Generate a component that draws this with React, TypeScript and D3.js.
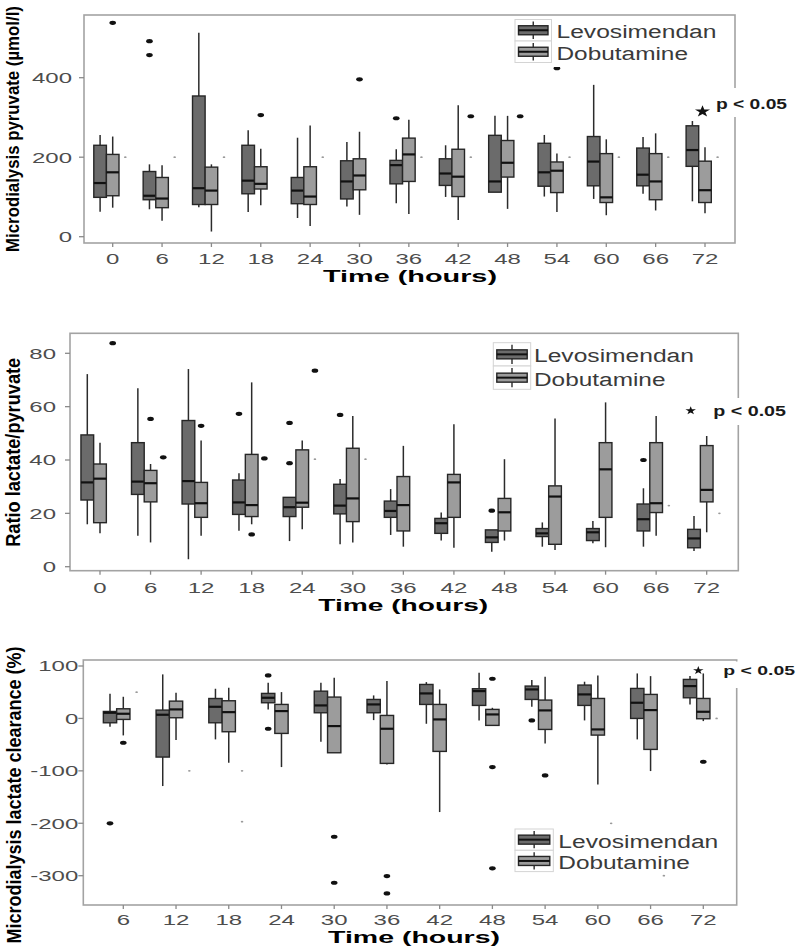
import React, { useLayoutEffect, useRef, useState } from 'react';
import * as d3 from 'd3';

// ---------- DATA ----------
const seriesNames = ['Levosimendan', 'Dobutamine'];
const slotNames = ['Levosimendan', 'Dobutamine', 'extra'];
const hoursAll = [0, 6, 12, 18, 24, 30, 36, 42, 48, 54, 60, 66, 72];
const hoursClearance = [6, 12, 18, 24, 30, 36, 42, 48, 54, 60, 66, 72];

// each entry: [lower whisker, Q1, median, Q3, upper whisker]
const pyruvateLevo = [
  [63, 99, 135, 230, 256], [69, 93, 103, 164, 182], [74, 81, 122, 354, 513],
  [62, 108, 141, 230, 268], [47, 83, 116, 149, 249], [76, 95, 139, 191, 238],
  [84, 133, 180, 192, 220], [100, 129, 159, 196, 230], [112, 112, 139, 255, 304],
  [101, 127, 162, 235, 256], [95, 128, 189, 252, 382], [108, 128, 156, 223, 251],
  [89, 177, 218, 279, 291],
];
const pyruvateDobu = [
  [73, 103, 162, 207, 252], [40, 73, 96, 149, 180], [13, 81, 116, 175, 182],
  [79, 120, 133, 176, 221], [27, 81, 101, 176, 280], [55, 118, 154, 196, 264],
  [57, 139, 207, 248, 294], [42, 101, 151, 220, 331], [70, 150, 186, 242, 304],
  [62, 111, 166, 188, 209], [54, 86, 99, 209, 245], [66, 93, 139, 209, 260],
  [59, 86, 117, 190, 225],
];
// [hour, slot, value]
const pyruvateOutliers = [
  [0, 1, 538], [6, 0, 492], [6, 0, 457], [18, 1, 306], [30, 1, 396],
  [36, 0, 298], [42, 2, 303], [48, 2, 303], [54, 1, 424],
];
// [hour, value]
const pyruvateStray = [
  [0, 200], [6, 200], [12, 200], [24, 200], [36, 200], [42, 200],
  [54, 200], [60, 200], [66, 200], [72, 200],
];
const pyruvateTicks = [0, 200, 400];

const ratioLevo = [
  [15.9, 25, 31.6, 49.4, 72.2], [11.6, 27.1, 31.9, 46.5, 66.9], [2.8, 23.5, 32.1, 54.8, 74.1],
  [13.5, 19.6, 24.1, 32.5, 35], [9.6, 18.8, 22.3, 26, 26], [8.4, 19.8, 22.9, 30.9, 32.9],
  [11.9, 18.5, 20.9, 24.6, 29.1], [9.8, 12.5, 16.3, 18.1, 20.3], [5.6, 9.1, 11, 13.8, 13.8],
  [7.5, 11.3, 12.5, 14.3, 16.6], [8.8, 9.8, 12.9, 14.3, 17.1], [7.5, 13.4, 17.8, 23.5, 29.4],
  [5.9, 7.1, 10.6, 14, 19],
];
const ratioDobu = [
  [12.5, 16.5, 33, 38.5, 46.5], [9.1, 24.3, 31.3, 36.1, 38.5], [11.6, 18.5, 23.8, 31.6, 47.3],
  [15.9, 18.8, 23.1, 42.1, 69.1], [14, 22.3, 24, 43.8, 47.3], [9.1, 16.9, 25.6, 44.4, 56.5],
  [7.5, 13.4, 23.1, 33.8, 45.3], [7.1, 18.5, 31.6, 34.6, 53.4], [9.8, 13.4, 20.4, 25.6, 40.3],
  [6.3, 8.4, 26.3, 30.3, 55.6], [7.3, 18.5, 36.5, 46.5, 61.6], [11.6, 20.3, 23.8, 46.5, 56.5],
  [12.9, 24.3, 28.8, 45.4, 49],
];
const ratioOutliers = [
  [0, 2, 83.8], [6, 1, 55.4], [6, 2, 41], [12, 1, 52.8], [18, 0, 57.3], [18, 1, 12.1],
  [18, 2, 40.6], [24, 0, 53.9], [24, 0, 38.8], [24, 2, 73.5], [30, 0, 56.9],
  [48, 0, 21], [66, 0, 40],
];
const ratioStray = [[24, 40.3], [30, 40.3], [66, 22.9], [72, 20]];
const ratioTicks = [0, 20, 40, 60, 80];

const clearanceLevo = [
  [-15.9, -8.3, 10.8, 13.3, 47], [-129, -73.7, 7, 15.9, 84], [-40, -8.3, 22.2, 38, 56.6],
  [17.2, 29.9, 39.4, 47.7, 68], [-44.5, 10.8, 24.8, 52, 68], [-3.2, 10.8, 26.7, 36.2, 43.9],
  [-10.2, 26.7, 47.7, 64.8, 69.3], [-3.8, 24.8, 52.1, 56.6, 87.1], [22.2, 36.2, 55.3, 61.7, 73.1],
  [-3.8, 24.8, 45.8, 63.6, 70], [-40, 0, 29.9, 57.2, 85.8], [26.7, 39.4, 61.7, 74.4, 80.7],
];
const clearanceDobu = [
  [-32.4, -1.9, 8.9, 18.4, 41.3], [-41.3, 1.3, 17.2, 33, 49], [-84.6, -25.4, 12, 33.7, 58.5],
  [-92.8, -28.6, 14, 26.7, 50.2], [-65.5, -65.5, -14.6, 40.7, 77.6], [-87.7, -85.8, -19.7, 5.7, 71.2],
  [-178.6, -62.9, -1.9, 26.7, 55.3], [-13.3, -13.3, 7.6, 17.2, 20.3], [-47.7, -21, 15.3, 35, 79.5],
  [-125.9, -31.8, -21, 38.1, 82], [-100.4, -59.1, 15.9, 45.8, 80.7], [-5.1, -0.6, 12.7, 38.1, 85.8],
];
const clearanceOutliers = [
  [6, 0, -200], [6, 1, -46.4], [24, 0, 82], [24, 0, -19.7], [30, 1, -225.7], [30, 1, -313.4],
  [36, 1, -300.7], [36, 1, -333.8], [48, 1, 75.7], [48, 1, -92.8], [48, 1, -286],
  [54, 0, -3.8], [54, 1, -108.7], [72, 1, -82.6],
];
const clearanceStray = [[6, 50], [12, -100], [18, -100], [18, -197], [60, -200], [66, -300], [72, 0]];
const clearanceTicks = [-300, -200, -100, 0, 100];

const yTitles = ['Microdialysis pyruvate (µmol/l)', 'Ratio lactate/pyruvate', 'Microdialysis lactate clearance (%)'];
const xTitle = 'Time (hours)';
const annotation = 'p < 0.05';

// ---------- STYLE ----------
const FONT = "'Liberation Sans', Arial, sans-serif";
const FILLS = ['#6b6b6b', '#9c9c9c'];
const BORDER = '#a3a3a3';
const TICKCOL = '#4d4d4d';

const Txt = ({ x, y, text, fs, sx = 1, anchor = 'middle', weight = 400, fill = '#000', rotate = 0, len }: any) => (
  <text
    transform={`translate(${x},${y}) scale(${sx},1)${rotate ? ` rotate(${rotate})` : ''}`}
    fontSize={fs}
    fontWeight={weight}
    fill={fill}
    textAnchor={anchor}
    fontFamily={FONT}
    textLength={len}
    lengthAdjust={len ? 'spacingAndGlyphs' : undefined}
  >
    {text}
  </text>
);

// rotated title squeezed to a target length via transform (measured natural length)
const RotTitle = ({ x, y, text, fs, len }: any) => {
  const ref = useRef<SVGTextElement>(null);
  const [k, setK] = useState(0.8);
  useLayoutEffect(() => {
    if (ref.current) {
      const nat = ref.current.getComputedTextLength();
      if (nat > 0) setK(len / nat);
    }
  }, [text, fs, len]);
  return (
    <text ref={ref} transform={`translate(${x},${y}) rotate(-90) scale(${k},1)`} fontSize={fs}
      fontWeight={700} fill="#000" textAnchor="middle" fontFamily={FONT}>
      {text}
    </text>
  );
};

const panels = [
  {
    hours: hoursAll, levo: pyruvateLevo, dobu: pyruvateDobu, outliers: pyruvateOutliers, stray: pyruvateStray,
    ticks: pyruvateTicks, title: yTitles[0],
    plot: { x0: 84, x1: 735, y0: 15, y1: 243 },
    xDomain: [0, 72], xRange: [112.7, 705], dw: 12.6,
    yDomain: [0, 400], yRange: [236.7, 77.7],
    yLabelX: 72, xLabelBase: 263.5,
    yTitle: { x: 18.5, y: 129, fs: 18.5, len: 246 },
    xTitlePos: { x: 410, y: 281.7, len: 174 },
    legend: { x: 515, y: 19.5, w: 36.5, h: 21.5, tx: 556.5, bg: [511, 16, 192, 51] },
    annot: { sx: 702.5, sy: 111.5, ss: 45, tx: 716, ty: 109, fs: 14, len: 71, bg: [709, 88, 91, 29] },
  },
  {
    hours: hoursAll, levo: ratioLevo, dobu: ratioDobu, outliers: ratioOutliers, stray: ratioStray,
    ticks: ratioTicks, title: yTitles[1],
    plot: { x0: 70, x1: 738.3, y0: 333.3, y1: 570.7 },
    xDomain: [0, 72], xRange: [100, 706.7], dw: 12.7,
    yDomain: [0, 80], yRange: [566.7, 353.3],
    yLabelX: 56, xLabelBase: 592.7,
    yTitle: { x: 20, y: 452.3, fs: 21, len: 189 },
    xTitlePos: { x: 403.2, y: 611, len: 170 },
    legend: { x: 493.3, y: 342.7, w: 37.4, h: 23.3, tx: 534, bg: [490, 340, 210, 52] },
    annot: { sx: 690.7, sy: 410.7, ss: 22, tx: 713.3, ty: 416, fs: 15, len: 72.7, bg: [700, 398, 100, 27] },
  },
  {
    hours: hoursClearance, levo: clearanceLevo, dobu: clearanceDobu, outliers: clearanceOutliers, stray: clearanceStray,
    ticks: clearanceTicks, title: yTitles[2],
    plot: { x0: 83.3, x1: 736.7, y0: 660, y1: 905 },
    xDomain: [6, 72], xRange: [123.3, 703.3], dw: 13.3,
    yDomain: [-300, 100], yRange: [875.7, 666],
    yLabelX: 78.3, xLabelBase: 925,
    yTitle: { x: 21, y: 795, fs: 21, len: 297 },
    xTitlePos: { x: 414, y: 943.3, len: 172 },
    legend: { x: 515, y: 829, w: 38.3, h: 21.3, tx: 558.3, bg: [512, 826, 210, 48] },
    annot: { sx: 698.3, sy: 670.5, ss: 22, tx: 723.3, ty: 675, fs: 13, len: 71.7, bg: [720, 661.5, 80, 26.5] },
  },
];

const Panel = ({ p }: any) => {
  const x = d3.scaleLinear().domain(p.xDomain).range(p.xRange);
  const y = d3.scaleLinear().domain(p.yDomain).range(p.yRange);
  const slot = d3.scaleBand().domain(slotNames).range([-1.5 * p.dw, 1.5 * p.dw]).paddingInner(0);
  const bw = slot.bandwidth();
  const cx = (h: number, s: number) => x(h) + (slot(slotNames[s]) as number) + bw / 2;
  const { x0, x1, y0, y1 } = p.plot;
  const star = d3.symbol(d3.symbolStar, p.annot.ss)();
  const L = p.legend;

  const boxes: any[] = [];
  [p.levo, p.dobu].forEach((series: number[][], g: number) => {
    series.forEach((st, i) => {
      const c = cx(p.hours[i], g);
      const [lo, q1, md, q3, hi] = st;
      boxes.push(
        <g key={`${g}-${i}`}>
          <line x1={c} x2={c} y1={y(hi)} y2={y(q3)} stroke="#2b2b2b" strokeWidth={1.5} />
          <line x1={c} x2={c} y1={y(q1)} y2={y(lo)} stroke="#2b2b2b" strokeWidth={1.5} />
          <rect x={c - bw / 2} y={y(q3)} width={bw} height={Math.max(0.5, y(q1) - y(q3))}
            fill={FILLS[g]} stroke="#262626" strokeWidth={1.4} />
          <line x1={c - bw / 2} x2={c + bw / 2} y1={y(md)} y2={y(md)} stroke="#111" strokeWidth={2.2} />
        </g>
      );
    });
  });

  return (
    <g>
      <rect x={x0} y={y0} width={x1 - x0} height={y1 - y0} fill="#fff" stroke={BORDER} strokeWidth={1.6} />
      {p.ticks.map((t: number) => (
        <g key={`yt${t}`}>
          <line x1={x0 - 5} x2={x0} y1={y(t)} y2={y(t)} stroke="#8a8a8a" strokeWidth={1.3} />
          <Txt x={p.yLabelX} y={y(t) + 5.4} text={String(t)} fs={15} sx={1.6} anchor="end" fill={TICKCOL} />
        </g>
      ))}
      {p.hours.map((h: number) => (
        <g key={`xt${h}`}>
          <line x1={x(h)} x2={x(h)} y1={y1} y2={y1 + 4} stroke="#8a8a8a" strokeWidth={1.3} />
          <Txt x={x(h)} y={p.xLabelBase} text={String(h)} fs={15} sx={1.6} fill={TICKCOL} />
        </g>
      ))}
      {boxes}
      {p.stray.map((d: number[], i: number) => (
        <ellipse key={`s${i}`} cx={cx(d[0], 2)} cy={y(d[1])} rx={1.3} ry={0.9} fill="#9a9a9a" />
      ))}
      {p.outliers.map((d: number[], i: number) => (
        <ellipse key={`o${i}`} cx={cx(d[0], d[1])} cy={y(d[2])} rx={3.3} ry={2.1} fill="#111" />
      ))}
      <rect x={L.bg[0]} y={L.bg[1]} width={L.bg[2]} height={L.bg[3]} fill="#fff" />
      {seriesNames.map((name, g) => {
        const ky = L.y + g * L.h;
        const mid = ky + L.h / 2;
        const kc = L.x + L.w / 2;
        return (
          <g key={name}>
            <rect x={L.x} y={ky} width={L.w} height={L.h} fill="#fff" stroke="#d4d4d4" strokeWidth={1} />
            <line x1={kc} x2={kc} y1={ky + 2} y2={ky + L.h - 2} stroke="#2b2b2b" strokeWidth={1.4} />
            <rect x={L.x + 3.5} y={mid - 4.5} width={L.w - 7} height={9} fill={FILLS[g]} stroke="#262626" strokeWidth={1.4} />
            <line x1={L.x + 3.5} x2={L.x + L.w - 3.5} y1={mid} y2={mid} stroke="#111" strokeWidth={2} />
            <Txt x={L.tx} y={mid + 8} text={name} fs={18} anchor="start" fill="#3a3a3a"
              len={g === 0 ? 160 : 131.5} />
          </g>
        );
      })}
      <rect x={p.annot.bg[0]} y={p.annot.bg[1]} width={p.annot.bg[2]} height={p.annot.bg[3]} fill="#fff" />
      <path d={star as string} transform={`translate(${p.annot.sx},${p.annot.sy}) scale(1.25,1)`} fill="#111" />
      <Txt x={p.annot.tx} y={p.annot.ty} text={annotation} fs={p.annot.fs} weight={700} anchor="start" fill="#1a1a1a" len={p.annot.len} />
      <RotTitle x={p.yTitle.x} y={p.yTitle.y} text={p.title} fs={p.yTitle.fs} len={p.yTitle.len} />
      <Txt x={p.xTitlePos.x} y={p.xTitlePos.y} text={xTitle} fs={17} weight={700} len={p.xTitlePos.len} />
    </g>
  );
};

export default function App() {
  return (
    <svg width={800} height={949} style={{ position: 'absolute', left: 0, top: 0, background: '#fff' }}>
      <rect x={0} y={0} width={800} height={949} fill="#fff" />
      {panels.map((p, i) => <Panel key={i} p={p} />)}
    </svg>
  );
}
